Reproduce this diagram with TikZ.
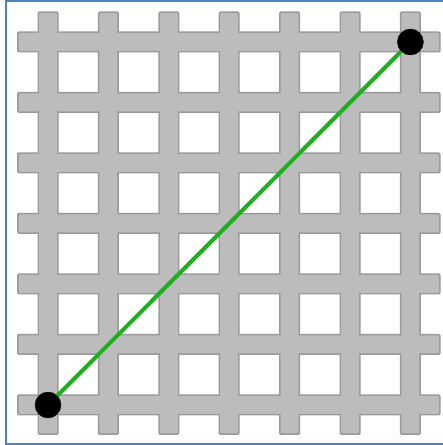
\documentclass[tikz,border=0pt]{standalone}
\definecolor{streetgray}{HTML}{BCBCBC}
\definecolor{streetedge}{HTML}{999999}
\definecolor{frameblue}{HTML}{4F81BD}
\definecolor{pathgreen}{HTML}{1FAE1F}
\begin{document}
\begin{tikzpicture}[
	x=1pt, y=1pt,
	corner/.style={ circle, draw, thin, fill, inner sep=0pt, minimum size=26pt },
	streetedge/.style={ fill=streetedge, rounded corners=1.5pt },
	streetfill/.style={ fill=streetgray, rounded corners=1pt },
	route/.style={ pathgreen, line width=4pt }
]
\useasboundingbox (0,0) rectangle (443,445);
\draw[frameblue, line width=2.5pt] (6,1) rectangle (447,444);

\foreach \i in {0,...,6} \fill[streetedge] ({48+60.4*\i-10.5},10) rectangle ({48+60.4*\i+10.5},433.5);
\foreach \j in {0,...,6} \fill[streetedge] (17,{40+60.5*\j-10.5}) rectangle (440.5,{40+60.5*\j+10.5});
\foreach \i in {0,...,6} \fill[streetfill] ({48+60.4*\i-9},11.5) rectangle ({48+60.4*\i+9},432);
\foreach \j in {0,...,6} \fill[streetfill] (18.5,{40+60.5*\j-9}) rectangle (439,{40+60.5*\j+9});

\node at (48,40) (start) [corner] {};
\node at (410.4,403) (finish) [corner] {};
\draw[route] (start) to (finish);

\end{tikzpicture}
\end{document}
